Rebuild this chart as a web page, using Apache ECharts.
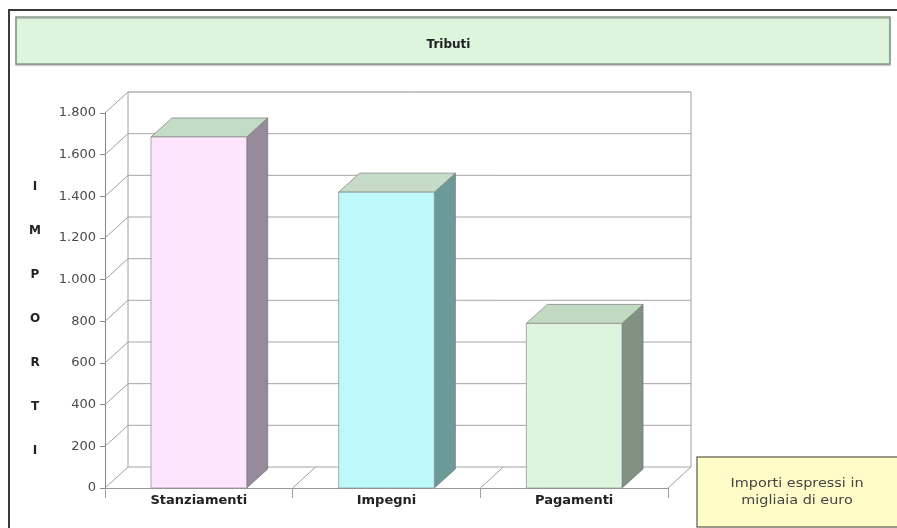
<!DOCTYPE html>
<html>
<head>
<meta charset="utf-8">
<script src="https://cdn.jsdelivr.net/npm/echarts@6/dist/echarts.min.js"></script>
<style>
html,body{margin:0;padding:0;background:#fff}
#main{width:897px;height:528px}
</style>
</head>
<body>
<div id="main"></div>
<script>
var categorie = ['Stanziamenti', 'Impegni', 'Pagamenti'];
var importi = [1685, 1420, 790];
var tacche = [0, 200, 400, 600, 800, 1000, 1200, 1400, 1600, 1800];
var titolo = 'Tributi';
var nota = ['Importi espressi in', 'migliaia di euro'];
var titoloAsse = ['I', 'M', 'P', 'O', 'R', 'T', 'I'];

// profondita' 3D (pareti e barre)
var DX = 23, DY = -21;
var BX = 21, BY = -19;
var colFronte = ['#fde5fd', '#bdf9fb', '#ddf5dc'];
var colLato = ['#978a9a', '#6c9a98', '#829282'];
var colSopra = ['#c3dcc5', '#c7dcc8', '#c2d9c2'];
var font = 'DejaVu Sans';

var grafico = echarts.init(document.getElementById('main'));

//linee della griglia sul fondo + diagonali sulla parete laterale
var disegnaParete = function(params, api){
    var cs = params.coordSys;
    var y = api.coord([0, api.value(1)])[1];
    var x0 = cs.x, x1 = cs.x + cs.width;
    var top = api.value(1) === tacche[tacche.length-1];
    return {
        type: 'group',
        children: [
            {type:'line', shape:{x1:x0+DX, y1:y+DY, x2:x1+DX, y2:y+DY}, style:{stroke: top ? '#8c8c8c' : '#a6a6a6', lineWidth:1}},
            {type:'line', shape:{x1:x0, y1:y, x2:x0+DX, y2:y+DY}, style:{stroke:'#a0a0a0', lineWidth:1}}
        ]
    };
};

//spigoli del pavimento e del fondo
var disegnaPavimento = function(params, api){
    var cs = params.coordSys;
    var i = api.value(0);
    var c = api.coord([i, 0]);
    var bx = c[0] + api.size([1, 0])[0]/2;
    var fondo = cs.y + cs.height;
    var figli = [
        {type:'line', shape:{x1:bx, y1:fondo, x2:bx+DX, y2:fondo+DY}, style:{stroke:'#a0a0a0', lineWidth:1}}
    ];
    if (i === 0) {
        figli.push({type:'line', shape:{x1:cs.x+DX, y1:cs.y+DY, x2:cs.x+DX, y2:fondo+DY}, style:{stroke:'#a0a0a0', lineWidth:1}});
    }
    if (i === categorie.length-1) {
        figli.push({type:'line', shape:{x1:cs.x+cs.width+DX, y1:cs.y+DY, x2:cs.x+cs.width+DX, y2:fondo+DY}, style:{stroke:'#a0a0a0', lineWidth:1}});
    }
    return {type:'group', children:figli};
};

var disegnaBarra = function(params, api){
    var i = api.value(0);
    var alto = api.coord([i, api.value(1)]);
    var base = api.coord([i, 0]);
    var w = api.size([1, 0])[0]*0.51;
    var x0 = alto[0] - w/2, x1 = alto[0] + w/2;
    return {
        type: 'group',
        children: [
            {type:'polygon', shape:{points:[[x1,alto[1]],[x1+BX,alto[1]+BY],[x1+BX,base[1]+BY],[x1,base[1]]]}, style:{fill:colLato[i], stroke:'#6e6e6e', lineWidth:0.7}},
            {type:'polygon', shape:{points:[[x0,alto[1]],[x0+BX,alto[1]+BY],[x1+BX,alto[1]+BY],[x1,alto[1]]]}, style:{fill:colSopra[i], stroke:'#7a7a7a', lineWidth:0.7}},
            {type:'rect', shape:{x:x0, y:alto[1], width:w, height:base[1]-alto[1]}, style:{fill:colFronte[i], stroke:'#8a8a8a', lineWidth:0.7}}
        ]
    };
};

var datiParete = tacche.map(function(v){ return [0, v]; });
var datiPavimento = categorie.map(function(c, i){ return [i, 0]; });
var datiBarre = importi.map(function(v, i){ return [i, v]; });

var option = {
    backgroundColor: '#fff',
    animation: false,
    title: {
        text: titolo,
        left: 'center',
        top: 34,
        textStyle: {fontFamily:font, fontSize:12, fontWeight:'bold', color:'#222'}
    },
    graphic: [
        {type:'polyline', z:1, shape:{points:[[9,528],[9,10],[897,10]]}, style:{stroke:'#3a3a3a', lineWidth:2, fill:null}},
        {type:'rect', z:1, shape:{x:16, y:17, width:874, height:47}, style:{fill:'#dcf5dc', stroke:'#8e9a8e', lineWidth:1.5, shadowColor:'rgba(0,0,0,0.25)', shadowOffsetY:1, shadowBlur:1}},
        {type:'rect', z:1, shape:{x:697, y:457, width:212, height:70}, style:{fill:'#fffcc8', stroke:'#7a7a6a', lineWidth:1.5}},
        {type:'text', z:2, x:797, y:475, scaleX:1.2, style:{text:nota.join('\n'), fontFamily:font, fontSize:12, lineHeight:17, fill:'#444', align:'center', verticalAlign:'top'}},
        {type:'text', z:2, x:35, y:165, style:{text:titoloAsse.join('\n'), fontFamily:font, fontSize:12, fontWeight:'bold', lineHeight:44, fill:'#222', align:'center', verticalAlign:'top'}}
    ],
    grid: {left:105, top:113, width:563, height:375},
    xAxis: {
        type: 'category',
        data: categorie,
        axisLine: {lineStyle:{color:'#999', width:1}},
        axisTick: {show:true, length:10, lineStyle:{color:'#a0a0a0'}},
        axisLabel: {margin:6, fontFamily:font, fontSize:13, fontWeight:'bold', color:'#222'}
    },
    yAxis: {
        type: 'value',
        min: tacche[0],
        max: tacche[tacche.length-1],
        interval: 200,
        axisLine: {show:true, lineStyle:{color:'#888', width:1}},
        axisTick: {show:true, length:5, lineStyle:{color:'#888'}},
        splitLine: {show:false},
        axisLabel: {
            margin: 9,
            fontFamily: font,
            fontSize: 13,
            color: '#4a4a4a',
            formatter: function(v){ return String(v).replace(/\B(?=(\d{3})+(?!\d))/g, '.'); }
        }
    },
    series: [
        {type:'custom', renderItem:disegnaParete, data:datiParete, encode:{x:0, y:1}, clip:false, z:1, silent:true},
        {type:'custom', renderItem:disegnaPavimento, data:datiPavimento, encode:{x:0, y:1}, clip:false, z:1, silent:true},
        {type:'custom', renderItem:disegnaBarra, data:datiBarre, encode:{x:0, y:1}, clip:false, z:3}
    ]
};

grafico.setOption(option);
</script>
</body>
</html>
